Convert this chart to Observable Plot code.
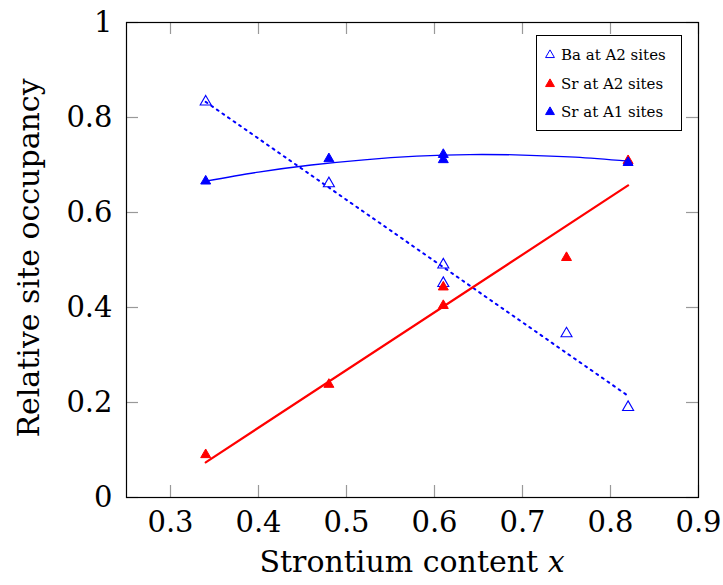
<!DOCTYPE html>
<html>
<head>
<meta charset="utf-8">
<script src="https://cdn.jsdelivr.net/npm/d3@7"></script>
<script src="https://cdn.jsdelivr.net/npm/@observablehq/plot@0.6"></script>
<style>
  body { margin: 0; background: #fff; }
  #chart { position: relative; width: 723px; height: 585px; font-family: "DejaVu Serif"; }
  .legend { position: absolute; left: 536px; top: 35px; width: 146px; height: 96px; box-sizing: border-box;
            border: 1px solid #000; background: #fff; font-size: 15px; color: #000; }
  .legend .row { position: absolute; left: 6px; height: 16px; display: flex; align-items: center; white-space: nowrap; }
  .legend svg { width: 14px; height: 14px; margin-right: 4px; overflow: visible; }
</style>
</head>
<body>
<div id="chart"></div>
<script>
// Strontium content of each sample
const strontium = [0.34, 0.48, 0.61, 0.61, 0.75, 0.82];
// Ba on the A2 sites
const baA2 = [0.833, 0.661, 0.490, 0.451, 0.345, 0.190];
// Sr on the A2 sites
const srA2 = [0.090, 0.238, 0.443, 0.404, 0.505, 0.709];
// Sr on the A1 sites (no value for x = 0.75)
const srA1X = [0.34, 0.48, 0.61, 0.61, 0.82];
const srA1 = [0.666, 0.713, 0.722, 0.711, 0.705];

// Fitted trends
const fitEndsX = [0.34, 0.82];
const baA2Fit = [0.833, 0.214];
const srA2Fit = [0.074, 0.657];
const srA1FitX = [0.34, 0.40, 0.46, 0.52, 0.58, 0.64, 0.70, 0.76, 0.82];
const srA1Fit = [0.666, 0.685, 0.700, 0.711, 0.7185, 0.722, 0.721, 0.7165, 0.708];

// Axis ticks
const xTicks = [0.3, 0.4, 0.5, 0.6, 0.7, 0.8, 0.9];
const xTickLabels = ["0.3", "0.4", "0.5", "0.6", "0.7", "0.8", "0.9"];
const yTicks = [0, 0.2, 0.4, 0.6, 0.8, 1];
const yTickLabels = ["0", "0.2", "0.4", "0.6", "0.8", "1"];

const legendLabels = ["Ba at A2 sites", "Sr at A2 sites", "Sr at A1 sites"];

const FONT = "DejaVu Serif";
const W = 723, H = 585;
const M = {top: 22, right: 25, bottom: 88, left: 126};
const plotW = W - M.left - M.right;
const plotH = H - M.top - M.bottom;
const TICK = 12;
const BLUE = "#0000ff", RED = "#ff0000";

const xLabelOf = new Map(xTicks.map((t, i) => [t, xTickLabels[i]]));
const yLabelOf = new Map(yTicks.map((t, i) => [t, yTickLabels[i]]));

const baRows = strontium.map((x, i) => ({x, y: baA2[i]}));
const srA2Rows = strontium.map((x, i) => ({x, y: srA2[i]}));
const srA1Rows = srA1X.map((x, i) => ({x, y: srA1[i]}));
const baFitRows = fitEndsX.map((x, i) => ({x, y: baA2Fit[i]}));
const srA2FitRows = fitEndsX.map((x, i) => ({x, y: srA2Fit[i]}));
const srA1FitRows = srA1FitX.map((x, i) => ({x, y: srA1Fit[i]}));

const chart = Plot.plot({
  width: W,
  height: H,
  marginTop: M.top,
  marginRight: M.right,
  marginBottom: M.bottom,
  marginLeft: M.left,
  x: {domain: [0.25, 0.9]},
  y: {domain: [0, 1]},
  style: {color: "#000", background: "#fff", overflow: "visible"},
  marks: [
    // inward ticks on all four sides
    Plot.tickX(xTicks, {x: d => d, stroke: "#999", strokeWidth: 1.2, insetTop: plotH - TICK}),
    Plot.tickX(xTicks, {x: d => d, stroke: "#999", strokeWidth: 1.2, insetBottom: plotH - TICK}),
    Plot.tickY(yTicks, {y: d => d, stroke: "#999", strokeWidth: 1.2, insetRight: plotW - TICK}),
    Plot.tickY(yTicks, {y: d => d, stroke: "#999", strokeWidth: 1.2, insetLeft: plotW - TICK}),
    Plot.axisX({ticks: xTicks, tickSize: 0, tickPadding: 14, fontSize: 29, tickFormat: d => xLabelOf.get(d), label: null}),
    Plot.axisY({ticks: yTicks, tickSize: 0, tickPadding: 14, fontSize: 29, tickFormat: d => yLabelOf.get(d), label: null}),

    // Ba at A2
    Plot.line(baFitRows, {x: "x", y: "y", stroke: BLUE, strokeWidth: 2, strokeDasharray: "2,4.8"}),
    Plot.dot(baRows, {x: "x", y: "y", symbol: "triangle", r: 4.1, fill: "none", stroke: BLUE, strokeWidth: 1.1}),

    // Sr at A2
    Plot.line(srA2FitRows, {x: "x", y: "y", stroke: RED, strokeWidth: 2.2}),
    Plot.dot(srA2Rows, {x: "x", y: "y", symbol: "triangle", r: 3.7, fill: RED, stroke: RED, strokeWidth: 1}),

    // Sr at A1
    Plot.line(srA1FitRows, {x: "x", y: "y", stroke: BLUE, strokeWidth: 1.3, curve: "natural"}),
    Plot.dot(srA1Rows, {x: "x", y: "y", symbol: "triangle", r: 3.7, fill: BLUE, stroke: BLUE, strokeWidth: 1}),

    Plot.frame({stroke: "#000", strokeWidth: 1.2})
  ]
});

const svg = d3.select(chart);
svg.attr("font-family", FONT);
svg.selectAll("g").attr("font-family", FONT);

// x-axis title with italic variable
const xt = svg.append("text")
  .attr("x", 412).attr("y", 572)
  .attr("text-anchor", "middle")
  .attr("font-family", FONT)
  .attr("font-size", 30)
  .attr("fill", "#000");
xt.append("tspan").text("Strontium content ");
xt.append("tspan").attr("font-style", "italic").text("x");

// y-axis title
svg.append("text")
  .attr("transform", "translate(38.5,258) rotate(-90)")
  .attr("text-anchor", "middle")
  .attr("font-family", FONT)
  .attr("font-size", 30)
  .attr("fill", "#000")
  .text("Relative site occupancy");

const root = document.getElementById("chart");
root.appendChild(chart);

// legend
const legend = document.createElement("div");
legend.className = "legend";
const legendStyles = [
  {fill: "none", stroke: BLUE},
  {fill: RED, stroke: RED},
  {fill: BLUE, stroke: BLUE}
];
const rowTops = [11, 39.7, 68];
const tri = d3.symbol(d3.symbolTriangle, 34)();
legendLabels.forEach((label, i) => {
  const row = document.createElement("div");
  row.className = "row";
  row.style.top = rowTops[i] + "px";
  const s = d3.create("svg").attr("viewBox", "-7 -7 14 14");
  s.append("path").attr("d", tri)
    .attr("fill", legendStyles[i].fill)
    .attr("stroke", legendStyles[i].stroke)
    .attr("stroke-width", 1);
  row.appendChild(s.node());
  const span = document.createElement("span");
  span.textContent = label;
  row.appendChild(span);
  legend.appendChild(row);
});
root.appendChild(legend);
</script>
</body>
</html>
